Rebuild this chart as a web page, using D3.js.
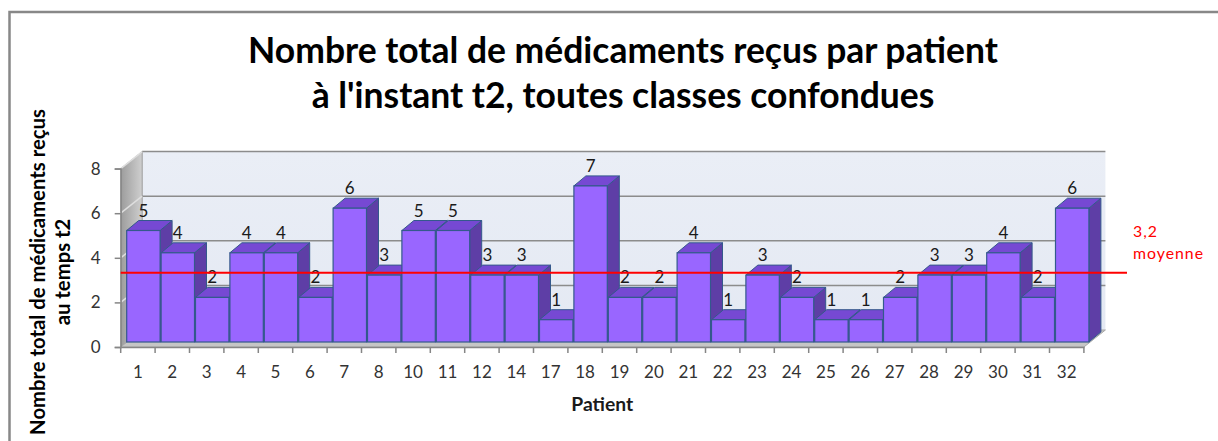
<!DOCTYPE html>
<html>
<head>
<meta charset="utf-8">
<script src="https://cdn.jsdelivr.net/npm/d3@7"></script>
<style>
  html, body { margin: 0; padding: 0; background: #ffffff; }
  svg { display: block; }
</style>
</head>
<body>
<svg id="chart" width="1218" height="441"></svg>
<script>
// ---------- data ----------
const patients = ["1","2","3","4","5","6","7","8","10","11","12","14","17","18","19","20","21","22","23","24","25","26","27","28","29","30","31","32"];
const counts   = [5,4,2,4,4,2,6,3,5,5,3,3,1,7,2,2,4,1,3,2,1,1,2,3,3,4,2,6];
const yTicks   = [0,2,4,6,8];
const meanValue = 3.2;
const meanLabel = "3,2";
const meanName  = "moyenne";
const titleLines = ["Nombre total de médicaments reçus par patient", "à l'instant t2, toutes classes confondues"];
const yTitleLines = ["Nombre total de médicaments reçus", "au temps t2"];
const xTitle = "Patient";

// ---------- layout ----------
const svg = d3.select("#chart");
const W = 1218, H = 441;
const x = d3.scaleBand().domain(patients).range([120.7, 1083.9]).padding(0);
const y = d3.scaleLinear().domain([0, 8]).range([347, 168.6]);
const depth = {dx: 21.5, dy: -17};      // full floor depth
const barFront = {dx: 6, dy: -5};       // bar front plane offset
const barDepth = {dx: 12, dy: -10};     // bar thickness
const font = "Lato, 'Open Sans', 'DejaVu Sans', sans-serif";

function fitWidth(sel, target) {
  const n = sel.node();
  const fs = parseFloat(sel.attr("font-size"));
  const w = n.getComputedTextLength();
  if (w > 0) sel.attr("font-size", (fs * target / w).toFixed(2));
  return parseFloat(sel.attr("font-size"));
}

// gradients
const defs = svg.append("defs");
const gSide = defs.append("linearGradient").attr("id", "sideGrad").attr("x1", 0).attr("x2", 1).attr("y1", 0).attr("y2", 0);
gSide.append("stop").attr("offset", "0%").attr("stop-color", "#9c9c9c");
gSide.append("stop").attr("offset", "100%").attr("stop-color", "#cfcfcf");
const gWall = defs.append("linearGradient").attr("id", "wallGrad").attr("x1", 0).attr("x2", 0).attr("y1", 0).attr("y2", 1);
gWall.append("stop").attr("offset", "0%").attr("stop-color", "#eaeef6");
gWall.append("stop").attr("offset", "100%").attr("stop-color", "#e4e9f3");

// ---------- frame ----------
svg.append("path").attr("d", `M9.5,${H + 5} L9.5,12 L${W + 5},12`)
  .attr("fill", "none").attr("stroke", "#888888").attr("stroke-width", 2.5);

// ---------- title ----------
const t1 = svg.append("text").attr("x", 623).attr("y", 63).attr("text-anchor", "middle")
  .attr("font-family", font).attr("font-weight", "bold").attr("font-size", 30).attr("fill", "#000")
  .text(titleLines[0]);
const tfs = fitWidth(t1, 750);
svg.append("text").attr("x", 623).attr("y", 108).attr("text-anchor", "middle")
  .attr("font-family", font).attr("font-weight", "bold").attr("font-size", tfs).attr("fill", "#000")
  .text(titleLines[1]);

// ---------- walls & floor ----------
const x0 = x.range()[0], x1 = x.range()[1];
const pts = a => a.map(p => p.join(",")).join(" ");
// back wall
svg.append("polygon")
  .attr("points", pts([[x0 + depth.dx, y(8) + depth.dy], [x1 + depth.dx, y(8) + depth.dy], [x1 + depth.dx, y(0) + depth.dy], [x0 + depth.dx, y(0) + depth.dy]]))
  .attr("fill", "url(#wallGrad)");
// side wall
svg.append("polygon")
  .attr("points", pts([[x0, y(8)], [x0 + depth.dx, y(8) + depth.dy], [x0 + depth.dx, y(0) + depth.dy], [x0, y(0)]]))
  .attr("fill", "url(#sideGrad)").attr("stroke", "#9a9a9a").attr("stroke-width", 1);
// gridlines back wall + side wall
yTicks.filter(v => v > 0).forEach(v => {
  svg.append("line").attr("x1", x0 + depth.dx).attr("x2", x1 + depth.dx)
    .attr("y1", y(v) + depth.dy).attr("y2", y(v) + depth.dy)
    .attr("stroke", "#8c8c8c").attr("stroke-width", 1.5);
  svg.append("line").attr("x1", x0).attr("x2", x0 + depth.dx)
    .attr("y1", y(v)).attr("y2", y(v) + depth.dy)
    .attr("stroke", "#dedede").attr("stroke-width", 1.5);
});
// floor
svg.append("polygon")
  .attr("points", pts([[x0, y(0)], [x1, y(0)], [x1 + depth.dx, y(0) + depth.dy], [x0 + depth.dx, y(0) + depth.dy]]))
  .attr("fill", "#c6c6c6").attr("stroke", "#a8a8a8").attr("stroke-width", 1);

// ---------- axes ----------
const xAxis = d3.axisBottom(x).tickSize(0).tickFormat(d => d);
const gx = svg.append("g").attr("transform", `translate(0,${y(0)})`).call(xAxis);
gx.select(".domain").attr("stroke", "#868686").attr("stroke-width", 1.5);
gx.selectAll(".tick text").attr("font-family", font).attr("font-size", 17).attr("fill", "#333")
  .attr("dy", 0).attr("y", 31);
// boundary ticks
const bounds = patients.map(p => x(p)).concat([x1]);
svg.append("g").selectAll("line").data(bounds).join("line")
  .attr("x1", d => d).attr("x2", d => d).attr("y1", y(0)).attr("y2", y(0) + 6)
  .attr("stroke", "#868686").attr("stroke-width", 1.5);

const yAxis = d3.axisLeft(y).tickValues(yTicks).tickSize(6).tickPadding(14);
const gy = svg.append("g").attr("transform", `translate(${x0},0)`).call(yAxis);
gy.select(".domain").attr("stroke", "#8a8a8a").attr("stroke-width", 1.5);
gy.selectAll(".tick line").attr("stroke", "#868686").attr("stroke-width", 1.5);
gy.selectAll(".tick text").attr("font-family", font).attr("font-size", 17).attr("fill", "#333");

// ---------- bars ----------
const bw = x.bandwidth() - 1;
const barTop = v => y(v) + barFront.dy;
const barBase = y(0) + barFront.dy;
const outline = "#34598c";
const gBars = svg.append("g");
patients.forEach((p, i) => {
  const v = counts[i];
  const bx = x(p) + barFront.dx;
  const tY = barTop(v);
  // side face
  gBars.append("polygon")
    .attr("points", pts([[bx + bw, tY], [bx + bw + barDepth.dx, tY + barDepth.dy], [bx + bw + barDepth.dx, barBase + barDepth.dy], [bx + bw, barBase]]))
    .attr("fill", "#5e3ea6").attr("stroke", outline).attr("stroke-width", 1);
  // top face
  gBars.append("polygon")
    .attr("points", pts([[bx, tY], [bx + bw, tY], [bx + bw + barDepth.dx, tY + barDepth.dy], [bx + barDepth.dx, tY + barDepth.dy]]))
    .attr("fill", "#7649d3").attr("stroke", outline).attr("stroke-width", 1);
  // front face
  gBars.append("rect").attr("x", bx).attr("y", tY).attr("width", bw).attr("height", barBase - tY)
    .attr("fill", "#9966ff").attr("stroke", outline).attr("stroke-width", 1.2);
});

// value labels
svg.append("g").selectAll("text").data(patients).join("text")
  .attr("x", p => x(p) + barFront.dx + bw / 2)
  .attr("y", (p, i) => barTop(counts[i]) + barDepth.dy - 4)
  .attr("text-anchor", "middle")
  .attr("font-family", font).attr("font-size", 17).attr("fill", "#1a1a1a")
  .text((p, i) => counts[i]);

// ---------- mean line ----------
const meanY = y(meanValue) - 3;
svg.append("line").attr("x1", x0).attr("x2", 1127).attr("y1", meanY).attr("y2", meanY)
  .attr("stroke", "#ff0000").attr("stroke-width", 2);
const mn = svg.append("text").attr("x", 1133).attr("y", 259).attr("font-family", font).attr("font-size", 14)
  .attr("fill", "#ff0000").attr("letter-spacing", 1).text(meanName);
const mfs = fitWidth(mn, 72);
svg.append("text").attr("x", 1133).attr("y", 237).attr("font-family", font).attr("font-size", mfs)
  .attr("fill", "#ff0000").attr("letter-spacing", 1).text(meanLabel);

// ---------- axis titles ----------
const px = svg.append("text").attr("x", (x0 + x1) / 2).attr("y", 411).attr("text-anchor", "middle")
  .attr("font-family", font).attr("font-weight", "bold").attr("font-size", 15).attr("fill", "#1a1a1a")
  .text(xTitle);
fitWidth(px, 62);

const yc = 272;
const yl1 = svg.append("text").attr("transform", `translate(45,${yc}) rotate(-90)`).attr("text-anchor", "middle")
  .attr("font-family", font).attr("font-weight", "bold").attr("font-size", 16).attr("fill", "#000")
  .text(yTitleLines[0]);
const yfs = fitWidth(yl1, 326);
svg.append("text").attr("transform", `translate(70,${yc}) rotate(-90)`).attr("text-anchor", "middle")
  .attr("font-family", font).attr("font-weight", "bold").attr("font-size", yfs).attr("fill", "#000")
  .text(yTitleLines[1]);
</script>
</body>
</html>
